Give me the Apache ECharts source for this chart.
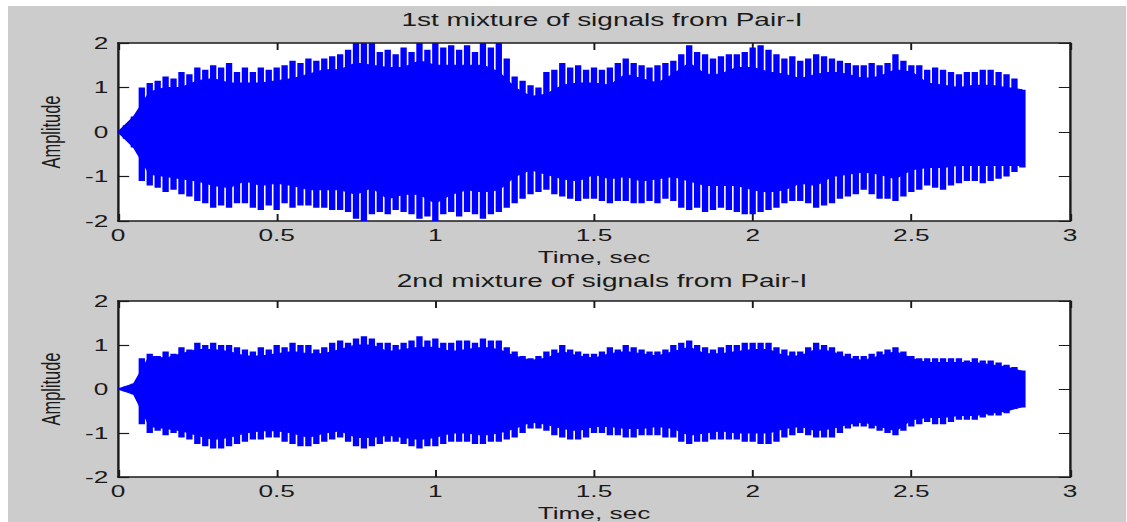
<!DOCTYPE html>
<html>
<head>
<meta charset="utf-8">
<script src="https://cdn.jsdelivr.net/npm/echarts@6/dist/echarts.min.js"></script>
<style>
  html, body { margin: 0; padding: 0; background: #ffffff; width: 1127px; height: 522px; overflow: hidden; }
  #c { position: absolute; left: 8px; top: 6px; width: 699px; height: 516px; transform: scaleX(1.6); transform-origin: 0 0; }
</style>
</head>
<body>
<div id="c"></div>
<script>
// ---- data ----
const titles = ['1st mixture of signals from Pair-I', '2nd mixture of signals from Pair-I'];
const xName = 'Time, sec';
const yName = 'Amplitude';
const xTicks = [0, 0.5, 1, 1.5, 2, 2.5, 3];
const yTicks = [-2, -1, 0, 1, 2];

const tipStep = 0.025;   // spacing of the peak readings (s)
const coreStep = 0.05;   // spacing of the solid-body readings (s)

// Mixture 1: peak tops / bottoms every 0.025 s (0 .. 2.85)
const hi1 = [
  0, 0.15, 0.35, 1.0, 1.1, 1.15, 1.25, 1.2, 1.35, 1.3,
  1.45, 1.4, 1.5, 1.45, 1.55, 1.35, 1.45, 1.35, 1.45, 1.4,
  1.45, 1.5, 1.6, 1.55, 1.65, 1.6, 1.65, 1.7, 1.75, 1.85,
  2.0, 2.0, 2.0, 1.8, 1.85, 1.75, 1.9, 1.8, 2.0, 1.85,
  2.0, 1.9, 1.95, 1.85, 1.95, 1.8, 2.0, 1.9, 2.0, 1.65,
  1.25, 1.15, 1.05, 1.0, 1.35, 1.4, 1.55, 1.45, 1.5, 1.4,
  1.45, 1.4, 1.45, 1.55, 1.65, 1.55, 1.5, 1.45, 1.5, 1.55,
  1.6, 1.75, 1.95, 1.8, 1.75, 1.65, 1.7, 1.75, 1.75, 1.8,
  1.9, 1.95, 1.85, 1.75, 1.65, 1.7, 1.6, 1.65, 1.75, 1.7,
  1.65, 1.6, 1.55, 1.5, 1.5, 1.55, 1.5, 1.55, 1.75, 1.6,
  1.5, 1.5, 1.4, 1.45, 1.4, 1.35, 1.3, 1.35, 1.35, 1.4,
  1.4, 1.35, 1.3, 1.2, 0.95
];
const lo1 = [
  0, -0.15, -0.35, -1.1, -1.2, -1.25, -1.35, -1.3, -1.4, -1.45,
  -1.55, -1.6, -1.7, -1.65, -1.7, -1.6, -1.6, -1.7, -1.75, -1.65,
  -1.75, -1.6, -1.7, -1.65, -1.65, -1.7, -1.7, -1.75, -1.75, -1.8,
  -1.95, -2.0, -1.85, -1.8, -1.85, -1.75, -1.8, -1.85, -1.95, -1.9,
  -2.0, -1.85, -1.8, -1.9, -1.8, -1.85, -1.95, -1.85, -1.8, -1.7,
  -1.6, -1.5, -1.4, -1.35, -1.3, -1.4, -1.45, -1.5, -1.55, -1.5,
  -1.5, -1.55, -1.6, -1.55, -1.55, -1.6, -1.6, -1.55, -1.6, -1.5,
  -1.55, -1.7, -1.75, -1.7, -1.8, -1.75, -1.7, -1.75, -1.8, -1.85,
  -1.85, -1.8, -1.75, -1.7, -1.6, -1.55, -1.55, -1.6, -1.7, -1.65,
  -1.6, -1.5, -1.45, -1.4, -1.3, -1.4, -1.5, -1.5, -1.55, -1.45,
  -1.35, -1.3, -1.2, -1.25, -1.3, -1.2, -1.15, -1.1, -1.1, -1.15,
  -1.1, -1.05, -1.0, -0.9, -0.8
];
// Mixture 1: solid body edges every 0.05 s (0 .. 2.85)
const coreHi1 = [
  0, 0.35, 0.9, 1.0, 1.0, 1.15, 1.2, 1.1, 1.1, 1.1,
  1.15, 1.2, 1.3, 1.4, 1.4, 1.55, 1.5, 1.45, 1.45, 1.6,
  1.5, 1.5, 1.5, 1.5, 1.35, 1.0, 0.8, 0.85, 1.05, 1.1,
  1.1, 1.05, 1.3, 1.2, 1.1, 1.3, 1.55, 1.3, 1.3, 1.45,
  1.45, 1.35, 1.3, 1.2, 1.3, 1.35, 1.3, 1.2, 1.25, 1.4,
  1.35, 1.1, 1.05, 1.0, 1.05, 1.05, 1.0, 0.95
];
const coreLo1 = [
  0, -0.35, -0.95, -1.0, -1.05, -1.1, -1.2, -1.25, -1.1, -1.2,
  -1.15, -1.2, -1.3, -1.3, -1.3, -1.4, -1.25, -1.5, -1.4, -1.4,
  -1.6, -1.4, -1.3, -1.35, -1.3, -1.0, -0.85, -0.95, -1.05, -1.1,
  -0.95, -1.05, -1.0, -1.1, -1.05, -1.0, -1.1, -1.2, -1.2, -1.2,
  -1.3, -1.35, -1.3, -1.15, -1.2, -1.0, -0.95, -0.9, -0.95, -1.05,
  -0.85, -0.8, -0.8, -0.75, -0.75, -0.75, -0.75, -0.75
];

// Mixture 2
const hi2 = [
  0, 0.05, 0.12, 0.7, 0.8, 0.75, 0.85, 0.8, 0.95, 0.9,
  1.05, 1.0, 1.05, 1.0, 1.0, 0.95, 0.9, 0.85, 0.95, 0.9,
  1.0, 0.95, 1.05, 1.0, 1.0, 0.9, 0.95, 1.05, 1.1, 1.05,
  1.15, 1.2, 1.15, 1.05, 1.05, 1.0, 1.05, 1.1, 1.2, 1.1,
  1.15, 1.05, 1.05, 1.1, 1.1, 1.05, 1.15, 1.1, 1.1, 0.95,
  0.85, 0.75, 0.7, 0.75, 0.85, 0.9, 1.0, 0.9, 0.85, 0.8,
  0.8, 0.85, 0.95, 0.9, 1.0, 0.95, 0.9, 0.85, 0.85, 0.9,
  1.0, 1.05, 1.1, 1.0, 0.95, 0.9, 0.95, 1.0, 1.0, 1.05,
  1.05, 1.05, 1.05, 0.95, 0.9, 0.85, 0.85, 0.95, 1.05, 1.0,
  0.95, 0.85, 0.8, 0.75, 0.75, 0.8, 0.85, 0.9, 0.95, 0.85,
  0.75, 0.7, 0.7, 0.7, 0.7, 0.7, 0.7, 0.65, 0.7, 0.65,
  0.65, 0.6, 0.55, 0.5, 0.42
];
const lo2 = [
  0, -0.05, -0.12, -0.8, -1.0, -0.95, -1.05, -1.0, -1.1, -1.15,
  -1.25, -1.3, -1.35, -1.35, -1.3, -1.25, -1.2, -1.15, -1.15, -1.1,
  -1.1, -1.2, -1.25, -1.3, -1.3, -1.25, -1.2, -1.15, -1.1, -1.2,
  -1.3, -1.35, -1.3, -1.25, -1.2, -1.2, -1.25, -1.3, -1.35, -1.3,
  -1.3, -1.25, -1.2, -1.2, -1.2, -1.25, -1.25, -1.2, -1.2, -1.15,
  -1.1, -1.0, -0.9, -0.9, -0.95, -1.05, -1.1, -1.15, -1.15, -1.1,
  -1.0, -1.0, -1.05, -1.05, -1.1, -1.1, -1.05, -1.05, -1.05, -1.1,
  -1.1, -1.2, -1.25, -1.2, -1.2, -1.15, -1.15, -1.15, -1.15, -1.2,
  -1.2, -1.25, -1.25, -1.2, -1.1, -1.05, -1.0, -1.05, -1.1, -1.1,
  -1.1, -1.0, -0.9, -0.85, -0.85, -0.9, -0.95, -1.0, -1.05, -0.95,
  -0.85, -0.8, -0.75, -0.8, -0.8, -0.75, -0.7, -0.7, -0.7, -0.65,
  -0.6, -0.6, -0.55, -0.45, -0.42
];
const coreHi2 = [
  0, 0.12, 0.75, 0.7, 0.8, 0.9, 0.9, 0.85, 0.75, 0.75,
  0.8, 0.85, 0.8, 0.8, 0.9, 1.0, 1.0, 0.85, 0.9, 0.95,
  0.95, 0.85, 0.9, 0.95, 0.9, 0.75, 0.65, 0.7, 0.85, 0.75,
  0.7, 0.8, 0.85, 0.8, 0.75, 0.85, 0.95, 0.8, 0.8, 0.85,
  0.9, 0.9, 0.75, 0.75, 0.9, 0.85, 0.7, 0.65, 0.75, 0.85,
  0.7, 0.6, 0.6, 0.6, 0.6, 0.55, 0.5, 0.4
];
const coreLo2 = [
  0, -0.12, -0.85, -0.9, -0.95, -1.05, -1.15, -1.1, -1.0, -0.95,
  -0.95, -1.0, -1.1, -1.0, -0.95, -1.1, -1.1, -1.05, -1.1, -1.15,
  -1.1, -1.0, -1.0, -1.05, -1.0, -0.9, -0.75, -0.8, -0.9, -0.95,
  -0.85, -0.85, -0.9, -0.9, -0.85, -0.9, -1.05, -1.0, -0.95, -1.0,
  -1.0, -1.0, -0.9, -0.85, -0.95, -0.9, -0.8, -0.75, -0.85, -0.95,
  -0.7, -0.65, -0.65, -0.6, -0.6, -0.55, -0.5, -0.4
];

// ---- chart ----
const BLUE = '#0000ff';
const INK = '#1a1a1a';
const FONT = '"Liberation Sans", Arial, sans-serif';

const grids = [
  { left: 68.75, top: 37, width: 595, height: 178 },
  { left: 68.75, top: 295, width: 595, height: 177 }
];

function line(vals, step) { return vals.map((v, i) => [Number((i * step).toFixed(4)), v]); }
function spikes(his, los, step) { return his.map((h, i) => [Number((i * step).toFixed(4)), los[i], h]); }

const xMin = xTicks[0], xMax = xTicks[xTicks.length - 1], xInt = xTicks[1] - xTicks[0];
const yMin = yTicks[0], yMax = yTicks[yTicks.length - 1], yInt = yTicks[1] - yTicks[0];

const xAxes = [], yAxes = [], series = [], title = [];
const sets = [
  { hi: hi1, lo: lo1, cHi: coreHi1, cLo: coreLo1 },
  { hi: hi2, lo: lo2, cHi: coreHi2, cLo: coreLo2 }
];

const axisLine = { show: true, onZero: false, lineStyle: { color: INK, width: 1.5 } };
const tick = { show: true, inside: true, length: 7, lineStyle: { color: INK, width: 1.2 } };

sets.forEach((s, g) => {
  title.push({
    text: titles[g],
    left: grids[g].left + grids[g].width / 2,
    top: g === 0 ? 0 : 261,
    textAlign: 'center',
    textStyle: { fontFamily: FONT, fontSize: 17.5, fontWeight: 'normal', color: INK }
  });
  xAxes.push({
    type: 'value', gridIndex: g, position: 'bottom', min: xMin, max: xMax, interval: xInt,
    axisLine, axisTick: tick, splitLine: { show: false },
    axisLabel: { color: INK, fontFamily: FONT, fontSize: 16.4, margin: 6 },
    name: xName, nameLocation: 'middle', nameGap: 28,
    nameTextStyle: { color: INK, fontFamily: FONT, fontSize: 16.4 }
  });
  xAxes.push({
    type: 'value', gridIndex: g, position: 'top', min: xMin, max: xMax, interval: xInt,
    axisLine, axisTick: tick, axisLabel: { show: false }, splitLine: { show: false }
  });
  yAxes.push({
    type: 'value', gridIndex: g, position: 'left', min: yMin, max: yMax, interval: yInt,
    axisLine, axisTick: tick, splitLine: { show: false },
    axisLabel: { color: INK, fontFamily: FONT, fontSize: 16.4, margin: 6 },
    name: yName, nameLocation: 'middle', nameGap: 34,
    nameTextStyle: { color: INK, fontFamily: FONT, fontSize: 16.4 }
  });
  yAxes.push({
    type: 'value', gridIndex: g, position: 'right', min: yMin, max: yMax, interval: yInt,
    axisLine, axisTick: tick, axisLabel: { show: false }, splitLine: { show: false }
  });
  const xi = g * 2, yi = g * 2;
  [s.cHi, s.cLo].forEach(arr => {
    series.push({
      type: 'line', xAxisIndex: xi, yAxisIndex: yi, data: line(arr, coreStep),
      symbol: 'none', silent: true, animation: false,
      lineStyle: { color: BLUE, width: 1 },
      areaStyle: { color: BLUE, opacity: 1, origin: 0 }
    });
  });
  // each peak reading drawn as a narrow block, separated by thin gaps
  series.push({
    type: 'custom', xAxisIndex: xi, yAxisIndex: yi, silent: true, animation: false, clip: true,
    data: spikes(s.hi, s.lo, tipStep),
    encode: { x: 0, y: [1, 2] },
    renderItem: function (params, api) {
      const t = api.value(0);
      const a = api.coord([t, api.value(1)]);
      const b = api.coord([t, api.value(2)]);
      const w = api.size([tipStep, 0])[0] - 1.0;
      return { type: 'rect', shape: { x: a[0] - w / 2, y: b[1], width: w, height: a[1] - b[1] },
               style: { fill: BLUE } };
    }
  });
});

const chart = echarts.init(document.getElementById('c'), null, { renderer: 'svg' });
chart.setOption({
  backgroundColor: '#cccccc',
  animation: false,
  title,
  grid: grids.map(g => Object.assign({}, g, { show: true, backgroundColor: '#ffffff', borderWidth: 0 })),
  xAxis: xAxes,
  yAxis: yAxes,
  series
});
</script>
</body>
</html>
